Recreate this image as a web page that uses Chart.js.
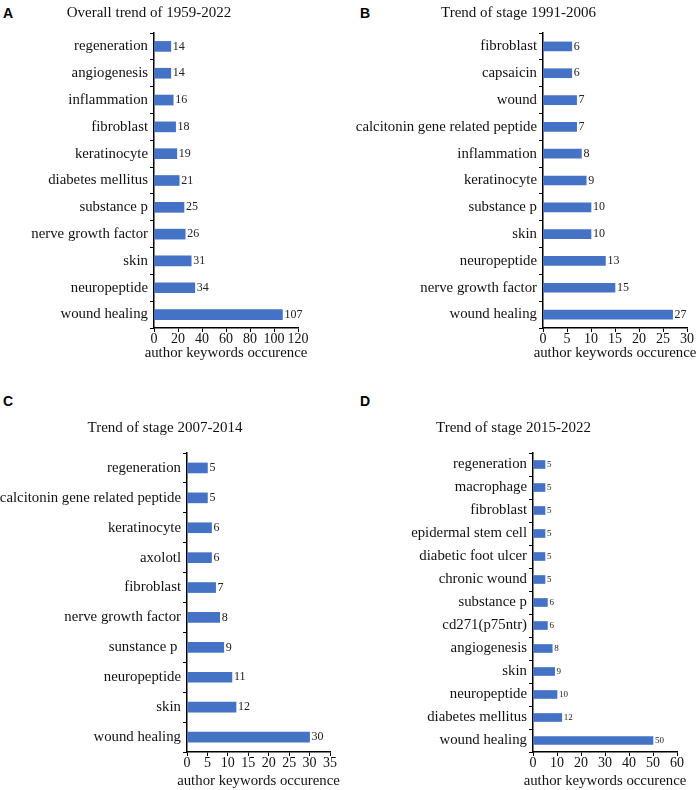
<!DOCTYPE html>
<html><head><meta charset="utf-8">
<script src="https://cdn.jsdelivr.net/npm/chart.js@4/dist/chart.umd.min.js"></script>
<style>
html,body{margin:0;padding:0;background:#fff;width:700px;height:790px;overflow:hidden;position:relative}
canvas{position:absolute;display:block}
.letter{position:absolute;font-family:"Liberation Sans",Arial,sans-serif;font-weight:bold;font-size:14px;line-height:1;color:#000}
</style></head><body>
<div class="letter" style="left:3px;top:6px">A</div>
<div class="letter" style="left:360px;top:6px">B</div>
<div class="letter" style="left:3px;top:394px">C</div>
<div class="letter" style="left:360px;top:394px">D</div>
<canvas id="ca" width="340" height="370" style="left:0;top:0;width:340px;height:370px"></canvas>
<canvas id="cb" width="350" height="370" style="left:350px;top:0;width:350px;height:370px"></canvas>
<canvas id="cc" width="342" height="390" style="left:0;top:400px;width:342px;height:390px"></canvas>
<canvas id="cd" width="350" height="390" style="left:350px;top:400px;width:350px;height:390px"></canvas>
<script>
// ---- data ----
const titleA = "Overall trend of 1959-2022";
const catA = ["regeneration","angiogenesis","inflammation","fibroblast","keratinocyte","diabetes mellitus","substance p","nerve growth factor","skin","neuropeptide","wound healing"];
const valA = [14,14,16,18,19,21,25,26,31,34,107];
const xTicksA = [0,20,40,60,80,100,120];

const titleB = "Trend of stage 1991-2006";
const catB = ["fibroblast","capsaicin","wound","calcitonin gene related peptide","inflammation","keratinocyte","substance p","skin","neuropeptide","nerve growth factor","wound healing"];
const valB = [6,6,7,7,8,9,10,10,13,15,27];
const xTicksB = [0,5,10,15,20,25,30];

const titleC = "Trend of stage 2007-2014";
const catC = ["regeneration","calcitonin gene related peptide","keratinocyte","axolotl","fibroblast","nerve growth factor","sunstance p ","neuropeptide","skin","wound healing"];
const valC = [5,5,6,6,7,8,9,11,12,30];
const xTicksC = [0,5,10,15,20,25,30,35];

const titleD = "Trend of stage 2015-2022";
const catD = ["regeneration","macrophage","fibroblast","epidermal stem cell","diabetic foot ulcer","chronic wound","substance p","cd271(p75ntr)","angiogenesis","skin","neuropeptide","diabetes mellitus","wound healing"];
const valD = [5,5,5,5,5,5,6,6,8,9,10,12,50];
const xTicksD = [0,10,20,30,40,50,60];

const axisTitle = "author keywords occurence";

// ---- drawing ----
const SERIF = '"Liberation Serif","Times New Roman",serif';
const BAR = '#4472C4';

const valueLabels = {
  id: 'valueLabels',
  afterDatasetsDraw(chart, args, opts) {
    const ctx = chart.ctx;
    const meta = chart.getDatasetMeta(0);
    const data = chart.data.datasets[0].data;
    ctx.save();
    ctx.font = opts.size + 'px ' + SERIF;
    ctx.fillStyle = '#222';
    ctx.textAlign = 'left';
    ctx.textBaseline = 'middle';
    meta.data.forEach((bar, i) => {
      ctx.fillText(String(data[i]), bar.x + 2, bar.y);
    });
    ctx.restore();
  }
};

// x-axis title drawn without width compression, centred under the x scale
const xAxisTitle = {
  id: 'xAxisTitle',
  afterDraw(chart, args, opts) {
    const s = chart.scales.x;
    const ctx = chart.ctx;
    ctx.save();
    ctx.font = opts.size + 'px ' + SERIF;
    ctx.fillStyle = '#111';
    ctx.textAlign = 'center';
    ctx.textBaseline = 'middle';
    ctx.fillText(opts.text, (s.left + s.right) / 2, s.bottom + opts.dy);
    ctx.restore();
  }
};

function makeChart(id, title, cats, vals, ticks, o) {
  new Chart(document.getElementById(id), {
    type: 'bar',
    data: {
      labels: cats,
      datasets: [{ data: vals, backgroundColor: BAR, borderWidth: 0, barThickness: o.bar }]
    },
    plugins: [valueLabels, xAxisTitle],
    options: {
      responsive: false,
      animation: false,
      indexAxis: 'y',
      layout: { padding: { left: 0, top: 0, right: o.padR, bottom: o.padB } },
      plugins: {
        legend: { display: false },
        tooltip: { enabled: false },
        title: {
          display: true, text: title, color: '#111',
          font: { family: SERIF, size: 15, weight: 'normal', lineHeight: 1.2 },
          padding: { top: o.tTop, bottom: o.tBot }
        },
        valueLabels: { size: o.lbl },
        xAxisTitle: { text: axisTitle, size: 14.8, dy: o.dy }
      },
      scales: {
        y: {
          afterFit: s => { s.width = o.yw; },
          grid: { display: true, drawOnChartArea: false, drawTicks: true, tickLength: 4, offset: true, color: '#000', lineWidth: 1 },
          border: { display: true, color: '#000', width: 1.5 },
          ticks: { color: '#111', padding: 2, font: { family: SERIF, size: 14.8, lineHeight: 1.2 } }
        },
        x: {
          min: ticks[0], max: ticks[ticks.length - 1],
          grid: { display: true, drawOnChartArea: false, drawTicks: true, tickLength: 4, color: '#000', lineWidth: 1 },
          border: { display: true, color: '#000', width: 1.5 },
          ticks: { stepSize: ticks[1] - ticks[0], color: '#111', padding: 0, maxRotation: 0, autoSkip: false,
                   font: { family: SERIF, size: 14, lineHeight: 1 } },
          title: { display: false }
        }
      }
    }
  });
}

makeChart('ca', titleA, catA, valA, xTicksA, { yw: 154, padR: 42, padB: 24, tTop: 4, tBot: 11, bar: 10, lbl: 12, dy: 7.5 });
makeChart('cb', titleB, catB, valB, xTicksB, { yw: 193, padR: 13, padB: 24, tTop: 4, tBot: 11, bar: 9, lbl: 12, dy: 7.5 });
makeChart('cc', titleC, catC, valC, xTicksC, { yw: 187, padR: 12, padB: 20, tTop: 19, tBot: 16, bar: 10, lbl: 12, dy: 11.5 });
makeChart('cd', titleD, catD, valD, xTicksD, { yw: 183, padR: 23, padB: 20, tTop: 19, tBot: 16, bar: 8, lbl: 9, dy: 11.5 });
</script>
</body></html>
